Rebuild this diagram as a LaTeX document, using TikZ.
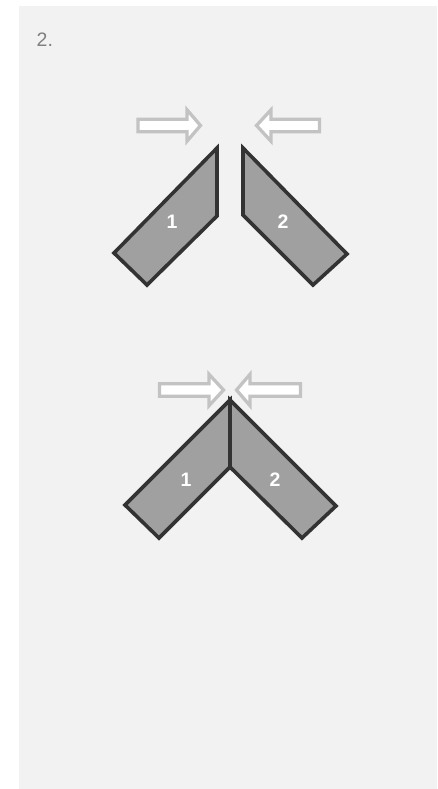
\documentclass[tikz,border=0pt]{standalone}
\usepackage{fontspec}
\setmainfont{Liberation Sans}
\definecolor{panel}{HTML}{F2F2F2}
\definecolor{plate}{HTML}{A0A0A0}
\definecolor{edge}{HTML}{333333}
\definecolor{arrowline}{HTML}{C3C3C3}
\definecolor{numtext}{HTML}{808080}
\begin{document}
\begin{tikzpicture}[x=1pt,y=-1pt,
  platestyle/.style={fill=plate,draw=edge,line width=3.6pt,line join=miter},
  pushstyle/.style={fill=white,draw=arrowline,line width=3.3pt,line join=miter},
  numlabel/.style={text=white,font=\fontsize{19.5}{19.5}\selectfont\bfseries,inner sep=0pt},
  steplabel/.style={text=numtext,font=\fontsize{19.5}{19.5}\selectfont,inner sep=0pt,anchor=base west}]
\useasboundingbox (0,0) rectangle (437,789);
\fill[white] (0,0) rectangle (437,789);
\fill[panel] (19,6) rectangle (437,788.5);
\node[steplabel] (title) at (36.5,46.7) {2.};
% top figure: separated plates
\draw[platestyle] (217,148) -- (217,216) -- (147,285) -- (114,253) -- cycle;
\draw[platestyle] (243,148) -- (243,215) -- (313,285) -- (347,254) -- cycle;
\node[numlabel] (p1a) at (172,222) {1};
\node[numlabel] (p2a) at (283,222) {2};
\draw[pushstyle] (138,119.3) -- (187,119.3) -- (187,109.8) -- (200.5,125.5) -- (187,141.2) -- (187,131.7) -- (138,131.7) -- cycle;
\draw[pushstyle] (319.5,119.3) -- (271,119.3) -- (271,109.8) -- (256.5,125.5) -- (271,141.2) -- (271,131.7) -- (319.5,131.7) -- cycle;
% bottom figure: joined plates
\draw[platestyle] (230,400) -- (230,467) -- (159,538) -- (125,505) -- cycle;
\draw[platestyle] (230,400) -- (230,467) -- (302,538) -- (336,506) -- cycle;
\node[numlabel] (p1b) at (186,480) {1};
\node[numlabel] (p2b) at (275,480) {2};
\draw[pushstyle] (159.5,383.8) -- (209,383.8) -- (209,374.3) -- (223.5,390) -- (209,405.7) -- (209,396.2) -- (159.5,396.2) -- cycle;
\draw[pushstyle] (300.5,383.8) -- (250,383.8) -- (250,374.3) -- (236.5,390) -- (250,405.7) -- (250,396.2) -- (300.5,396.2) -- cycle;
\end{tikzpicture}
\end{document}
